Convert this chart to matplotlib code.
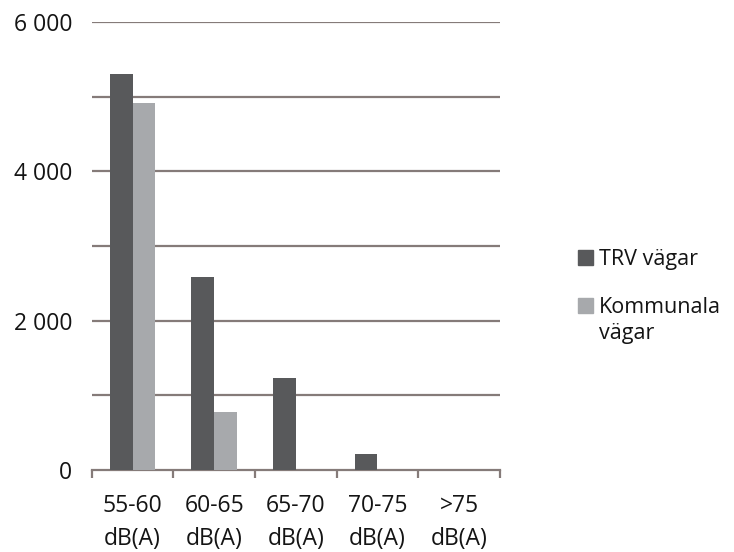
import matplotlib
matplotlib.use("Agg")
import matplotlib.pyplot as plt
import numpy as np
from matplotlib.patches import Rectangle

categories = ["55-60\ndB(A)", "60-65\ndB(A)", "65-70\ndB(A)", "70-75\ndB(A)", ">75\ndB(A)"]
trv = [5300, 2590, 1235, 220, 0]
kommunala = [4920, 780, 0, 0, 0]
series_names = ["TRV vägar", "Kommunala\nvägar"]
yticks = [0, 1000, 2000, 3000, 4000, 5000, 6000]
ytick_labels = ["0", "", "2 000", "", "4 000", "", "6 000"]

plt.rcParams['font.family'] = ['Open Sans', 'DejaVu Sans']
c_trv = "#58595b"
c_kom = "#a7a9ac"
grid_c = "#857b79"
txt_c = "#141414"

W, H = 734, 552
fig = plt.figure(figsize=(W / 100, H / 100), dpi=100)
ax = fig.add_axes([0.125, 0.1486, 0.556, 0.8115])

x = np.arange(len(categories))
w = 0.28
ax.bar(x - w/2, trv, width=w, color=c_trv, zorder=3)
ax.bar(x + w/2, kommunala, width=w, color=c_kom, zorder=3)

ax.set_xlim(-0.5, len(categories) - 0.5)
ax.set_ylim(0, 6000)
ax.set_yticks(yticks)
ax.set_yticklabels(ytick_labels, fontsize=16.5, color=txt_c)
ax.tick_params(axis='y', length=0, pad=14)
for yv in yticks[1:]:
    ax.axhline(yv, color=grid_c, lw=1.6, zorder=1)

ax.set_xticks(np.arange(-0.5, len(categories)), minor=False)
ax.set_xticklabels([""] * (len(categories) + 1))
ax.set_xticks(x, minor=True)
ax.set_xticklabels(categories, minor=True, fontsize=16.5, color=txt_c, linespacing=1.55)
ax.tick_params(axis='x', which='major', length=6, width=1.6, color=grid_c, direction='out')
ax.tick_params(axis='x', which='minor', length=0, pad=17)

for s in ['top', 'right', 'left']:
    ax.spines[s].set_visible(False)
ax.spines['bottom'].set_color(grid_c)
ax.spines['bottom'].set_linewidth(1.6)

# legend (drawn manually to match the layout: wrapped label, handle on first line)
sq = 15
line_px = 26
leg_items = [(series_names[0], c_trv, 250), (series_names[1], c_kom, 298)]
for label, col, ytop in leg_items:
    fig.patches.append(Rectangle((578 / W, 1 - (ytop + sq) / H), sq / W, sq / H,
                                 transform=fig.transFigure, color=col))
    for i, line in enumerate(label.split("\n")):
        fig.text(599 / W, 1 - (ytop + sq + i * line_px) / H, line, fontsize=15.5,
                 color=txt_c, va='baseline', ha='left', transform=fig.transFigure)

fig.savefig("out.png", dpi=100)
